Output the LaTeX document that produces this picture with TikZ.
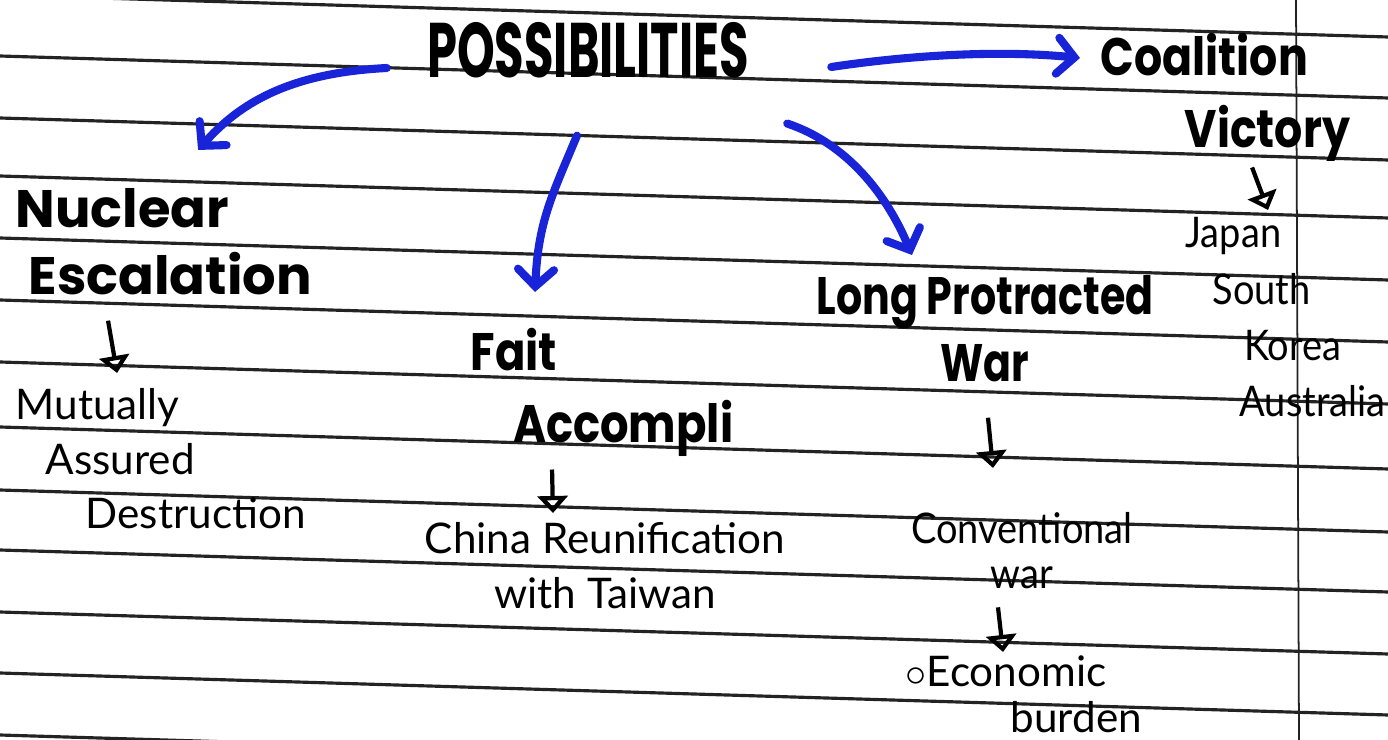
\documentclass[tikz,border=0pt]{standalone}
\usepackage{fontspec}
\usetikzlibrary{arrows.meta,positioning}
\newfontfamily\markerfont{Poppins}
\newfontfamily\penfont{Lato}
\definecolor{penblue}{RGB}{25,35,215}
\definecolor{ruleline}{RGB}{35,35,35}

\tikzset{
  bighead/.style={font=\markerfont\bfseries\fontsize{15}{19}\selectfont, inner sep=0pt, align=left},
  pennote/.style={font=\penfont\fontsize{12}{15.5}\selectfont, inner sep=0pt, align=left},
  bluearrow/.style={draw=penblue, line width=2.3pt, line cap=round,
    -{Straight Barb[length=0.17cm,width=0.36cm,line cap=round]}},
  penarrow/.style={line width=1.2pt, -{Triangle[open,length=0.17cm,width=0.3cm]}},
}

\begin{document}
\begin{tikzpicture}[x=0.01cm,y=-0.01cm]
  \useasboundingbox (0,0) rectangle (1388,740);
  \fill[white] (0,0) rectangle (1388,740);

  % ruled notebook page
  \foreach \y in {-5,56,118,176,238,300,362,427,490,550,612,673,735}
    \draw[ruleline, line width=0.9pt] (0,\y) -- (1388,\y+42);
  \draw[ruleline, line width=0.5pt] (1296,0) -- (1299,740);

  % headings
  \node[bighead, font=\markerfont\bfseries\fontsize{22}{22}\selectfont, xscale=0.62] (poss) at (588,50) {POSSIBILITIES};
  \node[bighead, anchor=north west] (nuc) at (15,188) {Nuclear\\\hspace*{0.13cm}Escalation};
  \node[bighead, anchor=north west, xscale=0.85] (fait) at (470,328) {Fait\\[0.05cm]\hspace*{0.5cm}Accompli};
  \node[bighead, anchor=north, align=center, xscale=0.78] (war) at (985,275) {Long Protracted\\War};
  \node[bighead, anchor=north west, xscale=0.84] (coal) at (1100,33) {Coalition\\[0.05cm]\hspace*{1.0cm}Victory};

  % consequences
  \node[pennote, anchor=north west] (mad) at (15,388) {Mutually\\\hspace*{0.3cm}Assured\\\hspace*{0.7cm}Destruction};
  \node[pennote, anchor=north, align=center] (china) at (605,522) {China Reunification\\with Taiwan};
  \node[pennote, anchor=north, align=center, xscale=0.9] (conv) at (1022,512) {Conventional\\[-0.1cm]war};
  \node[pennote, anchor=north west] (econ) at (905,655) {$\circ$Economic\\[-0.08cm]\hspace*{1.05cm}burden};
  \node[pennote, anchor=north west, xscale=0.9,
        font=\penfont\fontsize{12}{16}\selectfont] (allies) at (1185,217) {Japan\\\hspace*{0.3cm}South\\\hspace*{0.65cm}Korea\\\hspace*{0.6cm}Australia};

  % blue arrows out of the title
  \draw[bluearrow] ([xshift=-0.4cm,yshift=-0.18cm]poss.west) .. controls +(-100,5) and +(40,-45) .. ([xshift=1.83cm,yshift=0.38cm]nuc.north west);
  \draw[bluearrow] ([xshift=-0.11cm,yshift=-0.57cm]poss.south) .. controls +(-25,60) and +(3,-70) .. ([xshift=0.65cm,yshift=0.36cm]fait.north west);
  \draw[bluearrow] ([xshift=0.38cm,yshift=-0.45cm]poss.south east) .. controls +(60,20) and +(-25,-60) .. ([xshift=-0.73cm,yshift=0.2cm]war.north);
  \draw[bluearrow] ([xshift=0.82cm,yshift=-0.17cm]poss.east) .. controls +(80,-12) and +(-80,-8) .. ([xshift=-0.2cm,yshift=-0.25cm]coal.north west);

  % small pen arrows
  \draw[penarrow] ([xshift=0.93cm,yshift=-0.25cm]nuc.south west) -- ([xshift=1.02cm,yshift=0.15cm]mad.north west);
  \draw[penarrow] ([xshift=0.82cm,yshift=-0.12cm]fait.south west) -- ([xshift=-0.52cm,yshift=0.09cm]china.north);
  \draw[penarrow] ([xshift=0.03cm,yshift=-0.35cm]war.south) -- ([xshift=-0.29cm,yshift=0.44cm]conv.north);
  \draw[penarrow] ([xshift=-0.24cm,yshift=-0.18cm]conv.south) -- ([xshift=0.98cm,yshift=0.03cm]econ.north west);
  \draw[penarrow] ([xshift=1.52cm,yshift=-0.05cm]coal.south west) -- ([xshift=0.83cm,yshift=0.07cm]allies.north west);
\end{tikzpicture}
\end{document}
